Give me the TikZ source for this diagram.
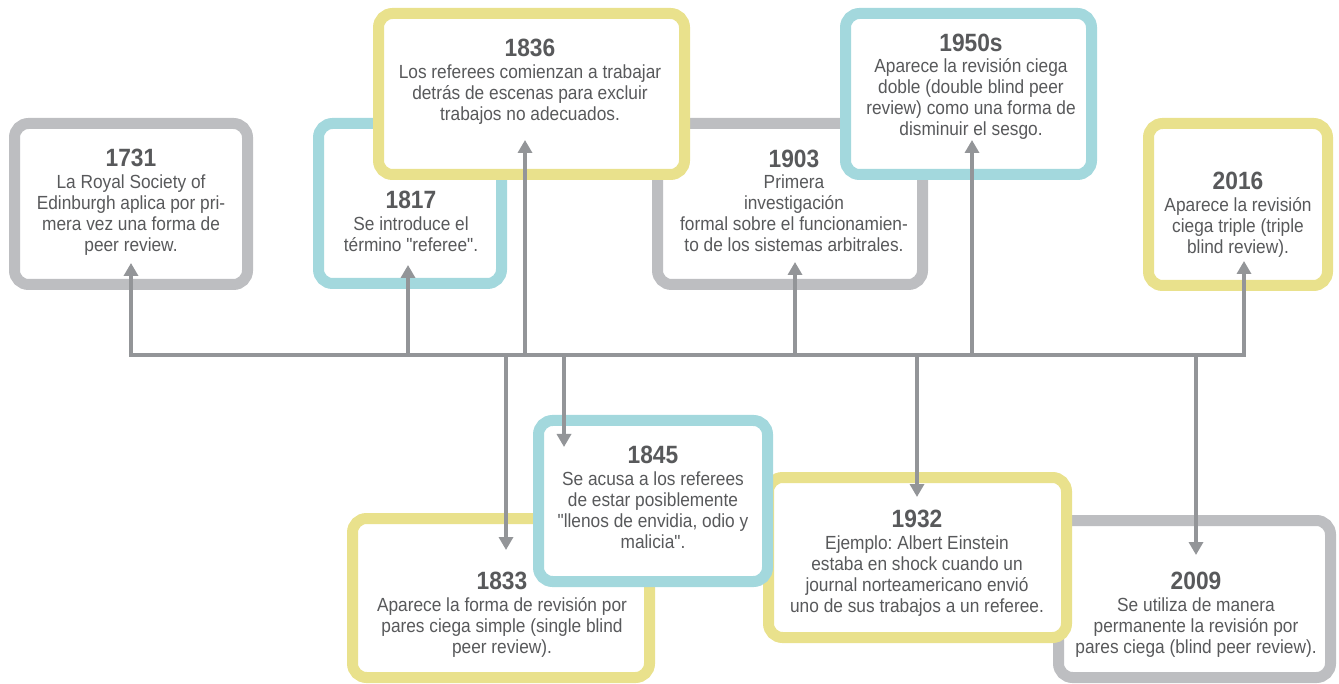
\documentclass[tikz,border=0pt]{standalone}
\usepackage{fontspec}
\setmainfont[FakeStretch=0.91, Ligatures=TeXOff]{Liberation Sans}
\usetikzlibrary{arrows.meta}
\frenchspacing
\definecolor{cgrey}{HTML}{BDBEC1}
\definecolor{cteal}{HTML}{A3D8DD}
\definecolor{cyell}{HTML}{E9E18C}
\definecolor{carrow}{HTML}{939598}
\definecolor{ctext}{HTML}{58595B}
\tikzset{
  box/.style={draw=#1, line width=11pt, rounded corners=14pt, fill=white, inner sep=0pt},
  lbl/.style={inner sep=0pt, anchor=base, text=ctext, font=\fontsize{19}{21}\selectfont\frenchspacing},
  conn/.style={draw=carrow, line width=3.5pt},
  arr/.style={conn, -{Triangle[width=14pt,length=13pt]}},
}
\newcommand\yr[1]{{\fontsize{25}{25}\selectfont\bfseries #1}}
\newcommand\mybox[6]{%
  \node[box=#2, minimum width={(#5-#3-11)*1pt}, minimum height={(#6-#4-11)*1pt}]
    (#1) at ({(#3+#5)/2},{(#4+#6)/2}) {};}
\newcommand\mytext[4]{%
  \node[lbl] (#1) at (#2,#3) {\begin{tabular}[t]{@{}c@{}}#4\end{tabular}};}
\begin{document}
\begin{tikzpicture}[x=1pt,y=-1pt]
\useasboundingbox (0,0) rectangle (1339,684);
% top row
\mybox{b1731}{cgrey}{9}{118}{253}{290}
\mytext{t1731}{131}{167}{\yr{1731}\\[1pt] La Royal Society of\\ Edinburgh aplica por pri-\\ mera vez una forma de\\ peer review.}
\mybox{b1817}{cteal}{313}{118}{507}{289}
\mytext{t1817}{411}{209}{\yr{1817}\\[1pt] Se introduce el\\ término "referee".}
\mybox{b1903}{cgrey}{652}{118}{928}{290}
\mytext{t1903}{794}{168}{\yr{1903}\\[0pt] Primera\\ investigación\\ formal sobre el funcionamien-\\ to de los sistemas arbitrales.}
\mybox{b1836}{cyell}{373}{8}{690}{180}
\mytext{t1836}{530}{57}{\yr{1836}\\[1pt] Los referees comienzan a trabajar\\ detrás de escenas para excluir\\ trabajos no adecuados.}
\mybox{b1950}{cteal}{840}{8}{1097}{180}
\mytext{t1950}{971}{52}{\yr{1950s}\\[0pt] Aparece la revisión ciega\\ doble (double blind peer\\ review) como una forma de\\ disminuir el sesgo.}
\mybox{b2016}{cyell}{1143}{118}{1333}{291}
\mytext{t2016}{1238}{190}{\yr{2016}\\[1pt] Aparece la revisión\\ ciega triple (triple\\ blind review).}
% bottom row
\mybox{b1833}{cyell}{347}{513}{655}{683}
\mytext{t1833}{502}{589}{\yr{1833}\\[1pt] Aparece la forma de revisión por\\ pares ciega simple (single blind\\ peer review).}
\mybox{b2009}{cgrey}{1053}{515}{1336}{683}
\mytext{t2009}{1196}{589}{\yr{2009}\\[1pt] Se utiliza de manera\\ permanente la revisión por\\ pares ciega (blind peer review).}
\mybox{b1932}{cyell}{763}{472}{1072}{643}
\mytext{t1932}{917}{527}{\yr{1932}\\[1pt] Ejemplo: Albert Einstein\\ estaba en shock cuando un\\ journal norteamericano envió\\ uno de sus trabajos a un referee.}
\mybox{b1845}{cteal}{533}{415}{773}{587}
\mytext{t1845}{653}{464}{\yr{1845}\\[1pt] Se acusa a los referees\\ de estar posiblemente\\ "llenos de envidia, odio y\\ malicia".}
% junction points on the timeline
\coordinate (j1731) at (131,355);
\coordinate (j1817) at (408,355);
\coordinate (j1836) at (525,355);
\coordinate (j1903) at (795,355);
\coordinate (j1950) at (972,355);
\coordinate (j2016) at (1244,355);
\coordinate (j1833) at (506,355);
\coordinate (j1845) at (564,355);
\coordinate (j1932) at (917,355);
\coordinate (j2009) at (1196,355);
% arrow tips
\coordinate (p1731) at (131,263);
\coordinate (p1817) at (408,265);
\coordinate (p1836) at (525,140);
\coordinate (p1903) at (795,262);
\coordinate (p1950) at (972,140);
\coordinate (p2016) at (1244,261);
\coordinate (p1833) at (506,550);
\coordinate (p1845) at (564,447);
\coordinate (p1932) at (917,497);
\coordinate (p2009) at (1196,555);
\draw[conn, line cap=rect] (j1731) -- (j2016);
\foreach \n in {1731,1817,1836,1903,1950,2016,1833,1845,1932,2009}
  \draw[arr] (j\n) -- (p\n);
\end{tikzpicture}
\end{document}
